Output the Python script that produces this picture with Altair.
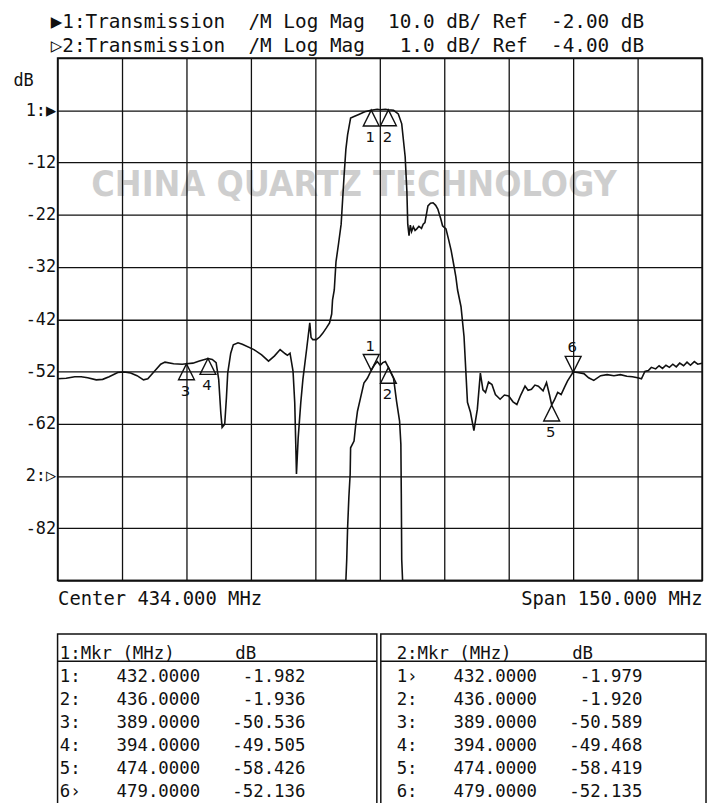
import altair as alt
import pandas as pd

# Channel 1 trace: 10 dB/div, reference -2 dB
t1_freq = [359.0, 361.0, 363.0, 364.5, 366.0, 368.0, 369.5, 371.0, 373.0, 374.5,
           376.0, 377.5, 379.0, 380.0, 381.5, 383.0, 384.0, 386.0, 388.0, 389.0,
           390.5, 392.0, 394.0, 395.0, 395.9, 396.5, 397.0, 397.3, 397.9, 398.3,
           398.6, 399.3, 399.9, 401.0, 402.0, 404.7, 406.5, 408.1, 409.5, 410.8,
           412.0, 412.5, 413.1, 413.8, 414.2, 414.5, 414.6, 415.0, 415.6, 416.1,
           417.0, 417.7, 418.0, 418.4, 419.2, 420.0, 420.7, 421.6, 422.3, 422.8,
           423.0, 423.4, 423.8, 424.4, 425.0, 425.7, 426.1, 426.5, 427.2, 428.0,
           429.1, 430.5, 432.0, 433.4, 434.1, 435.3, 436.0, 437.2, 438.3, 439.1,
           439.9, 440.3, 440.5, 440.8, 441.1, 441.4, 441.8, 442.2, 442.6, 443.1,
           443.7, 444.1, 444.5, 445.2, 445.8, 446.4, 447.0, 447.5, 448.2, 448.6,
           449.0, 449.4, 450.0, 450.6, 451.3, 451.7, 452.1, 452.9, 453.6, 454.0,
           454.4, 455.1, 455.9, 456.7, 457.4, 458.0, 458.6, 459.3, 460.1, 460.9,
           462.0, 463.0, 464.0, 465.0, 465.9, 466.8, 467.8, 468.5, 469.3, 470.1,
           470.9, 472.0, 472.8, 473.5, 474.0, 474.6, 475.4, 476.2, 477.0, 477.7,
           479.0, 480.0, 481.5, 482.6, 483.8, 485.4, 486.9, 488.5, 490.0, 491.5,
           492.8, 494.0, 494.9, 495.7, 496.5, 497.2, 498.2, 499.0, 499.8, 500.6,
           501.4, 502.2, 503.0, 503.8, 504.7, 505.5, 506.3, 507.2, 508.0, 509.0]
t1_db = [-53.4, -53.3, -53.0, -53.0, -53.2, -53.6, -53.5, -53.0, -52.2, -52.1,
         -52.3, -52.8, -53.6, -53.4, -52.0, -50.6, -50.2, -50.5, -50.6, -50.5,
         -50.4, -50.0, -49.5, -49.7, -50.3, -53.5, -60.0, -62.7, -62.1, -57.0,
         -52.3, -48.5, -46.9, -46.5, -46.8, -47.8, -48.8, -50.0, -49.0, -47.8,
         -48.6, -48.9, -48.5, -51.9, -58.0, -68.0, -71.6, -64.7, -58.0, -53.5,
         -47.5, -42.7, -45.5, -45.9, -45.9, -45.4, -44.7, -43.6, -42.7, -41.0,
         -38.3, -36.4, -31.0, -27.5, -23.8, -14.3, -9.5, -6.7, -3.5, -3.2,
         -2.8, -2.3, -2.0, -1.8, -1.9, -1.8, -1.9, -2.0, -2.7, -4.6,
         -10.9, -17.5, -23.8, -26.0, -24.0, -25.2, -24.3, -25.0, -24.7, -24.2,
         -24.6, -23.8, -23.5, -20.3, -19.8, -19.7, -20.2, -20.9, -22.8, -24.1,
         -24.4, -24.7, -26.7, -28.8, -32.0, -33.9, -36.4, -39.6, -45.3, -51.6,
         -57.9, -59.8, -63.3, -59.2, -52.3, -55.5, -56.0, -54.0, -54.5, -56.4,
         -57.3, -56.5, -56.7, -57.8, -58.3, -56.5, -54.8, -55.6, -55.4, -54.6,
         -54.8, -55.7, -54.1, -56.5, -58.4, -57.5, -56.0, -56.4, -55.0, -53.8,
         -52.1, -52.2, -52.4, -53.2, -53.7, -52.8, -52.6, -52.8, -52.6, -52.9,
         -53.0, -53.2, -53.4, -52.0, -51.8, -51.2, -51.5, -50.9, -51.4, -50.8,
         -51.2, -50.6, -51.1, -50.4, -50.9, -50.2, -50.8, -50.1, -50.6, -50.4]

# Channel 2 trace: 1 dB/div, reference -4 dB (off-screen parts rest on the bottom line)
t2_freq = [359.0, 426.1, 426.3, 426.5, 426.8, 427.1, 427.2, 428.0, 428.4, 428.8,
           429.5, 430.3, 431.1, 432.0, 432.7, 433.4, 434.1, 434.7, 435.3, 436.0,
           437.2, 437.9, 438.6, 438.9, 439.0, 439.1, 439.3, 509.0]
t2_db = [-6.0, -6.0, -5.6, -5.0, -4.4, -3.96, -3.46, -3.33, -3.01, -2.76,
         -2.51, -2.22, -2.13, -1.98, -1.88, -1.81, -1.88, -1.83, -1.81, -1.92,
         -2.13, -2.57, -2.95, -3.39, -4.34, -5.6, -6.0, -6.0]

# Marker table
marker_ids = [1, 2, 3, 4, 5, 6]
marker_freq = [432.0, 436.0, 389.0, 394.0, 474.0, 479.0]
ch1_marker_db = [-1.982, -1.936, -50.536, -49.505, -58.426, -52.136]
ch2_marker_db = [-1.979, -1.920, -50.589, -49.468, -58.419, -52.135]
ch1_active = 6
ch2_active = 1

# Scales / ticks
freq_domain = [359, 509]
freq_ticks = [359, 374, 389, 404, 419, 434, 449, 464, 479, 494, 509]
ch1_domain = [-92, 8]
ch1_ticks = [8, -2, -12, -22, -32, -42, -52, -62, -72, -82, -92]
ch2_domain = [-6, 4]

header_lines = [
    "▶1:Transmission  /M Log Mag  10.0 dB/ Ref  -2.00 dB",
    "▷2:Transmission  /M Log Mag   1.0 dB/ Ref  -4.00 dB",
]
center_label = "Center 434.000 MHz"
span_label = "Span 150.000 MHz"
ch1_ref_label = "1:▶"
ch2_ref_label = "2:▷"
watermark_text = ["CHINA QUARTZ TECHNOLOGY"]
watermark_freq = [428.0]
watermark_db = [-16.3]

# ---------------- styling ----------------
MONO = "DejaVu Sans Mono"
INK = "#111111"
NBSP = "\u00a0"
UP = "M0,0L-1,2L1,2Z"      # marker triangle hanging below the point
DOWN = "M0,0L-1,-2L1,-2Z"  # active marker triangle sitting above the point


def keep_spaces(s):
    return s.replace(" ", NBSP)


t1 = pd.DataFrame({"freq": t1_freq, "db": t1_db})
t2 = pd.DataFrame({"freq": t2_freq, "db": t2_db})
m1 = pd.DataFrame({"freq": marker_freq, "db": ch1_marker_db, "id": marker_ids,
                   "active": [i == ch1_active for i in marker_ids]})
m2 = pd.DataFrame({"freq": marker_freq, "db": ch2_marker_db, "id": marker_ids,
                   "active": [i == ch2_active for i in marker_ids]})
m2 = m2[(m2["db"] >= ch2_domain[0]) & (m2["db"] <= ch2_domain[1])]
wm = pd.DataFrame({"freq": watermark_freq, "db": watermark_db, "text": watermark_text})

x_label_expr = (f"datum.value == {freq_ticks[0]} ? '{center_label}' : "
                f"datum.value == {freq_ticks[-1]} ? '{span_label}' : ''")
x_enc = alt.X("freq:Q",
              scale=alt.Scale(domain=freq_domain, nice=False, zero=False),
              axis=alt.Axis(values=freq_ticks, grid=True, ticks=False, domain=False,
                            title=None, labelExpr=x_label_expr, labelFlush=True,
                            labelOverlap=False, labelLimit=500, labelFont=MONO,
                            labelFontSize=19, labelColor=INK, labelPadding=9,
                            gridColor=INK, gridWidth=1.3, gridOpacity=1))

y_label_expr = (f"datum.value == -2 ? '{ch1_ref_label}' : "
                f"datum.value == -72 ? '{ch2_ref_label}' : "
                f"(datum.value == {ch1_domain[1]} || datum.value == {ch1_domain[0]}) ? '' : "
                f"'' + datum.value")
y1_enc = alt.Y("db:Q",
               scale=alt.Scale(domain=ch1_domain, nice=False, zero=False),
               axis=alt.Axis(values=ch1_ticks, grid=True, ticks=False, domain=False,
                             labelExpr=y_label_expr, labelFont=MONO, labelFontSize=17,
                             labelColor=INK, labelPadding=2, labelOverlap=False,
                             title="dB", titleAngle=0, titleX=-45, titleY=23,
                             titleAlign="left", titleBaseline="middle",
                             titleFont=MONO, titleFontSize=17, titleFontWeight="normal",
                             titleColor=INK,
                             gridColor=INK, gridWidth=1.3, gridOpacity=1))
y2_enc = alt.Y("db:Q", scale=alt.Scale(domain=ch2_domain, nice=False, zero=False),
               axis=None)

watermark = alt.Chart(wm).mark_text(
    font="DejaVu Sans Condensed", fontSize=36, fontWeight="bold", color="black",
    opacity=0.19, align="center", baseline="middle").encode(
    x=x_enc, y=y1_enc, text="text:N")

trace1 = alt.Chart(t1).mark_line(color=INK, strokeWidth=1.6, clip=True).encode(
    x=x_enc, y=y1_enc)


def marker_layers(df, y_enc):
    up = df[~df["active"]]
    dn = df[df["active"]]
    layers = []
    if len(up):
        layers += [
            alt.Chart(up).mark_point(shape=UP, size=256, filled=False, color=INK,
                                     strokeWidth=1.4, opacity=1).encode(x=x_enc, y=y_enc),
            alt.Chart(up).mark_text(dy=27, dx=-1, font="DejaVu Sans", fontSize=15,
                                    color=INK).encode(x=x_enc, y=y_enc, text="id:N"),
        ]
    if len(dn):
        layers += [
            alt.Chart(dn).mark_point(shape=DOWN, size=256, filled=False, color=INK,
                                     strokeWidth=1.4, opacity=1).encode(x=x_enc, y=y_enc),
            alt.Chart(dn).mark_text(dy=-25, dx=-1, font="DejaVu Sans", fontSize=15,
                                    color=INK).encode(x=x_enc, y=y_enc, text="id:N"),
        ]
    return layers


ch1_group = alt.layer(watermark, trace1, *marker_layers(m1, y1_enc))
trace2 = alt.Chart(t2).mark_line(color=INK, strokeWidth=1.6, clip=True).encode(
    x=x_enc, y=y2_enc)
ch2_group = alt.layer(trace2, *marker_layers(m2, y2_enc))

plot = alt.layer(ch1_group, ch2_group).resolve_scale(y="independent").properties(
    width=650, height=527,
    title=alt.TitleParams(text=[keep_spaces(s) for s in header_lines], anchor="start",
                          frame="group", font=MONO, fontSize=19.5, fontWeight="normal",
                          color=INK, lineHeight=24, dx=-7, offset=-7),
)

# ---------------- marker table ----------------
PITCH = 11.8
TABLE_FS = 17.5
row_y = alt.Y("row:Q", scale=alt.Scale(domain=[-0.88, 6.53], reverse=True,
                                         nice=False, zero=False), axis=None)


def marker_panel(ch, marker_db, active, origin, width):
    rows = pd.DataFrame({
        "row": list(range(1, len(marker_ids) + 1)),
        "label": [f"{i}{'›' if i == active else ':'}" for i in marker_ids],
        "freq": [f"{f:.4f}" for f in marker_freq],
        "db": [f"{d:.3f}" for d in marker_db],
    })
    head = pd.DataFrame({"row": [0], "label": [keep_spaces(f"{ch}:Mkr (MHz)")],
                         "db": ["dB"]})
    char_scale = alt.Scale(domain=[0, 1], range=[origin, origin + PITCH])

    def cx(col):
        return alt.XDatum(col, type="quantitative", scale=char_scale, axis=None)

    txt = dict(font=MONO, fontSize=TABLE_FS, color=INK, baseline="middle")
    return alt.layer(
        alt.Chart(head).mark_rule(yOffset=7, strokeWidth=1.5, color=INK).encode(y=row_y),
        alt.Chart(head).mark_text(align="left", **txt).encode(x=cx(0), y=row_y, text="label:N"),
        alt.Chart(head).mark_text(align="left", **txt).encode(x=cx(15), y=row_y, text="db:N"),
        alt.Chart(rows).mark_text(align="left", **txt).encode(x=cx(0), y=row_y, text="label:N"),
        alt.Chart(rows).mark_text(align="right", **txt).encode(x=cx(12), y=row_y, text="freq:N"),
        alt.Chart(rows).mark_text(align="right", **txt).encode(x=cx(21), y=row_y, text="db:N"),
    ).properties(width=width, height=172)


table = alt.hconcat(
    marker_panel(1, ch1_marker_db, ch1_active, 2.2, 322),
    marker_panel(2, ch2_marker_db, ch2_active, 16, 328),
    spacing=0,
)

chart = alt.vconcat(plot, table, spacing=24).properties(
    padding={"left": 4, "top": -1, "right": 0, "bottom": 0},
    background="white",
).configure_view(stroke=INK, strokeWidth=1.5)

chart.save("out.html", embed_options={"renderer": "svg", "actions": False})
